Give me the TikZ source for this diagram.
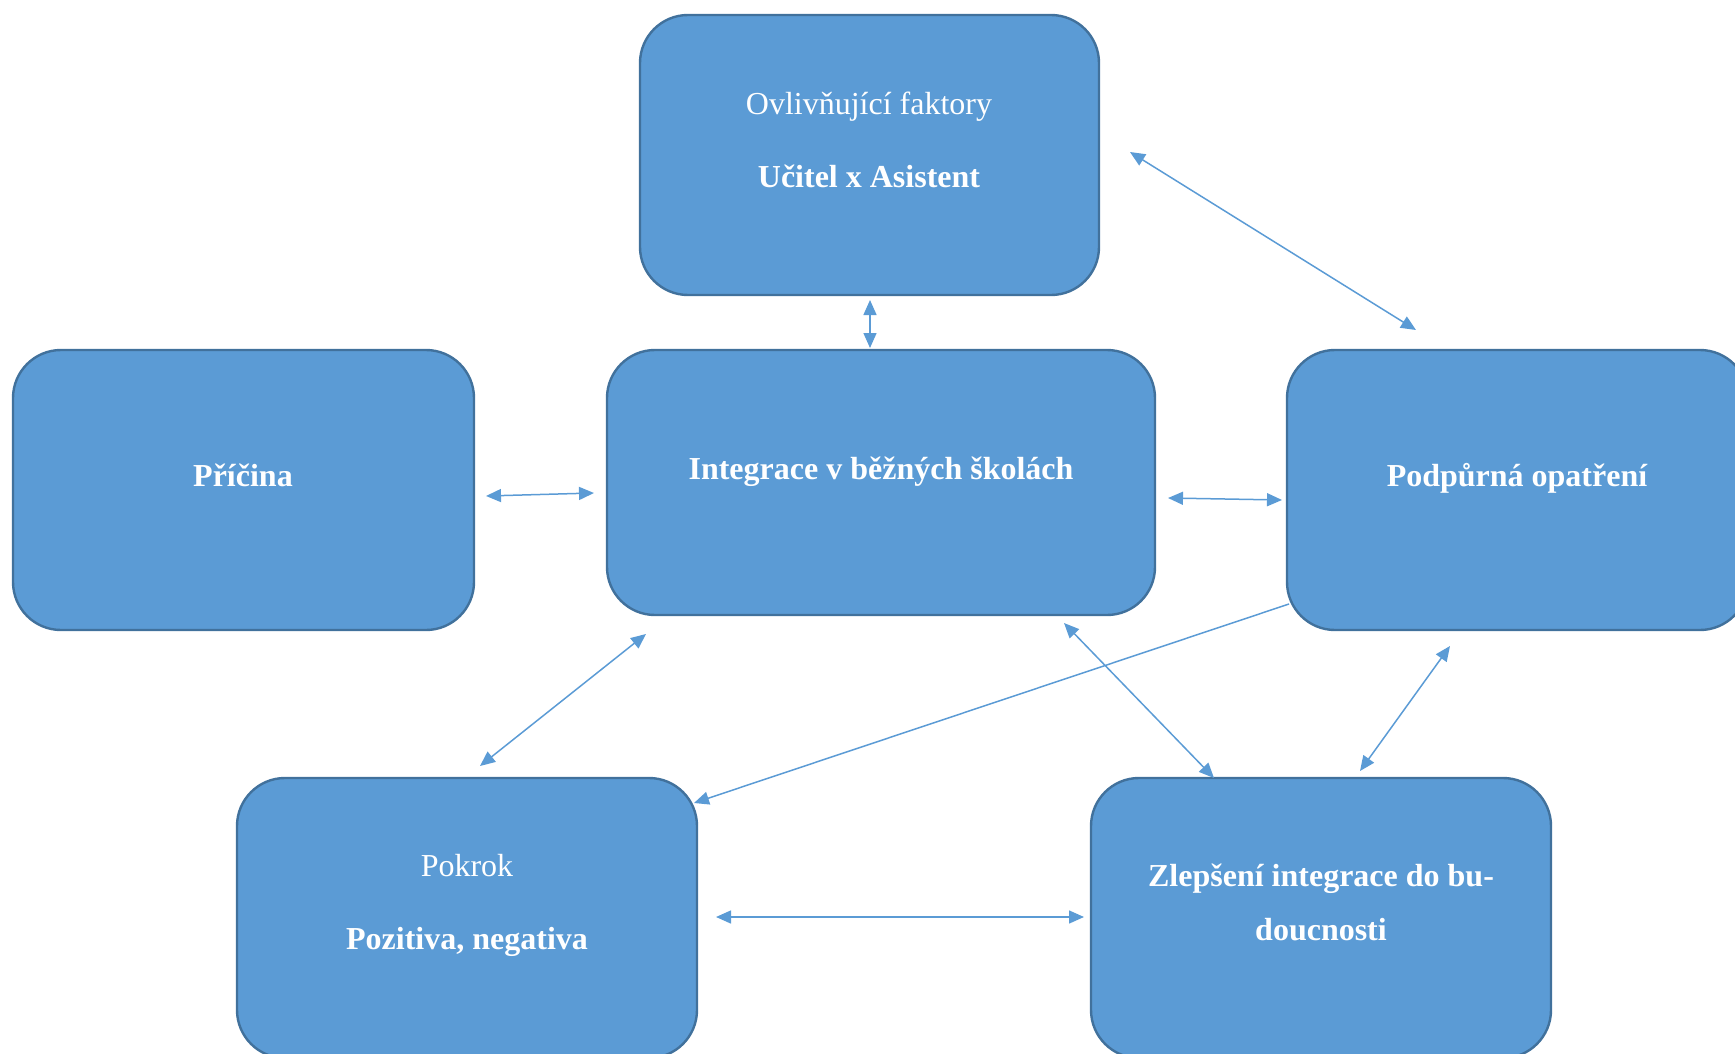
\documentclass[tikz,border=0pt]{standalone}
\usepackage{fontspec}
\setmainfont{Liberation Serif}
\usetikzlibrary{arrows.meta}
\definecolor{boxfill}{HTML}{5B9BD5}
\definecolor{boxline}{HTML}{41719C}
\definecolor{arrowblue}{HTML}{5B9BD5}
\tikzset{
  box/.style={draw=boxline, fill=boxfill, line width=1.2pt, rounded corners=24pt, inner sep=0pt},
  txt/.style={text=white, anchor=base, font=\fontsize{16}{19}\selectfont, inner sep=0pt},
  btxt/.style={txt, font=\fontsize{16}{19}\selectfont\bfseries},
  conn/.style={draw=arrowblue, line width=0.75pt, {Triangle[length=7.5pt,width=6.5pt]}-{Triangle[length=7.5pt,width=6.5pt]}},
  conn1/.style={draw=arrowblue, line width=0.75pt, -{Triangle[length=7.5pt,width=6.5pt]}}
}
\begin{document}
\begin{tikzpicture}[x=0.5pt,y=-0.5pt]
\useasboundingbox (0,0) rectangle (1735,1054);
\clip (0,0) rectangle (1735,1054);
% boxes
\node[box, minimum width=229.5pt, minimum height=140pt] (top) at (869.5,155) {};
\node[box, minimum width=230.5pt, minimum height=140pt] (pricina) at (243.5,490) {};
\node[box, minimum width=274pt, minimum height=132.5pt] (integ) at (881,482.5) {};
\node[box, minimum width=230.5pt, minimum height=140pt] (podp) at (1517.5,490) {};
\node[box, minimum width=230pt, minimum height=140pt] (pokrok) at (467,918) {};
\node[box, minimum width=230pt, minimum height=140pt] (zlep) at (1321,918) {};
% texts
\node[txt] (t1) at (869,114.5) {Ovlivňující faktory};
\node[btxt] (t2) at (869,187) {Učitel x Asistent};
\node[btxt] (t3) at (243,486.5) {Příčina};
\node[btxt] (t4) at (881,479) {Integrace v běžných školách};
\node[btxt] (t5) at (1517,486.5) {Podpůrná opatření};
\node[txt] (t6) at (467,876.5) {Pokrok};
\node[btxt] (t7) at (467,949.5) {Pozitiva, negativa};
\node[btxt] (t8) at (1321,886.5) {Zlepšení integrace do bu-};
\node[btxt] (t9) at (1321,940.5) {doucnosti};
% connector end points
\coordinate (a1) at (870,300);  \coordinate (b1) at (870,348);
\coordinate (a2) at (1130,152); \coordinate (b2) at (1416,330);
\coordinate (a3) at (486,496);  \coordinate (b3) at (594,493);
\coordinate (a4) at (1168,498); \coordinate (b4) at (1282,500);
\coordinate (a5) at (646,634);  \coordinate (b5) at (480,766);
\coordinate (a6) at (1289,604); \coordinate (b6) at (694,803);
\coordinate (a7) at (1064,623); \coordinate (b7) at (1214,778);
\coordinate (a8) at (1450,646); \coordinate (b8) at (1360,771);
\coordinate (a9) at (716,917);  \coordinate (b9) at (1084,917);
% connectors
\draw[conn] (a1) -- (b1);
\draw[conn] (a2) -- (b2);
\draw[conn] (a3) -- (b3);
\draw[conn] (a4) -- (b4);
\draw[conn] (a5) -- (b5);
\draw[conn1] (a6) -- (b6);
\draw[conn] (a7) -- (b7);
\draw[conn] (a8) -- (b8);
\draw[conn] (a9) -- (b9);
\end{tikzpicture}
\end{document}
